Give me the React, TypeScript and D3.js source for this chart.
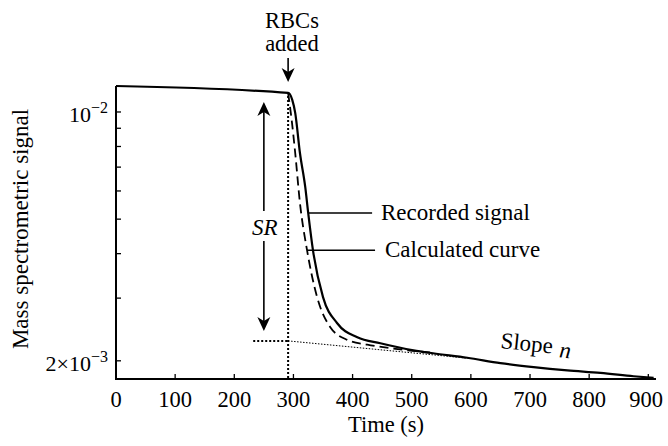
import React from 'react';
import * as d3 from 'd3';

// recorded mass spec signal (solid line)
const recordedT = [0, 291, 298, 303, 311, 320, 325, 333, 350, 374, 408, 447, 503, 536, 594, 650, 706, 763, 819, 875, 909];
const recordedV = [0.01183, 0.01131, 0.01081, 0.00994, 0.00767, 0.00615, 0.0052, 0.00409, 0.00302, 0.00255, 0.00233, 0.00224, 0.00214, 0.0021, 0.00204, 0.00197, 0.00192, 0.00188, 0.00185, 0.00181, 0.00179];

// calculated curve (dashed)
const calcT = [291, 297, 303, 311, 323, 340, 362, 391, 425, 464, 531];
const calcV = [0.01131, 0.0095, 0.00767, 0.00555, 0.00409, 0.00302, 0.00249, 0.00229, 0.00222, 0.00217, 0.00211];

// extrapolated slope line
const slopeT = [291, 600];
const slopeV = [0.002275, 0.00203];

const addTime = 291;
const baseStartT = 232;
const srT = 250;
const srTop = 0.01067;
const srBottom = 0.002426;

const xTicks = [0, 100, 200, 300, 400, 500, 600, 700, 800, 900];
const yTicks = [0.002, 0.003, 0.004, 0.005, 0.006, 0.007, 0.008, 0.009, 0.01];

const W = 668;
const H = 446;
const FONT = 'Liberation Serif';

const x = d3.scaleLinear().domain([0, 913]).range([116, 656]);
const y = d3.scaleLog().domain([0.001778, 0.01183]).range([379, 86]);

const line = d3.line<[number, number]>()
  .x(d => x(d[0]))
  .y(d => y(d[1]))
  .curve(d3.curveMonotoneX);

const zip = (a: number[], b: number[]) => a.map((t, i) => [t, b[i]] as [number, number]);

// small arrow head, tip at (tx, ty), pointing up (dir=-1) or down (dir=1)
const head = (tx: number, ty: number, dir: number) => {
  const h = 14, w = 6.5, notch = 4;
  return `M${tx},${ty} L${tx - w},${ty - dir * h} L${tx},${ty - dir * (h - notch)} L${tx + w},${ty - dir * h} Z`;
};

export default function App() {
  const x0 = x(0), y0 = y.range()[0];
  const xEnd = x.range()[1];
  const yTop = y.range()[1];
  const xa = x(addTime);
  const xs = x(srT);

  return (
    <svg width={W} height={H} style={{ position: 'absolute', left: 0, top: 0, background: '#fff' }}>
      <g fontFamily={FONT}>
        {/* axes */}
        <line x1={x0} y1={yTop} x2={x0} y2={y0 + 1} stroke="#000" strokeWidth={2} />
        <line x1={x0 - 1} y1={y0} x2={xEnd} y2={y0} stroke="#000" strokeWidth={2} />
        {xTicks.map(t => (
          <g key={'xt' + t}>
            {t > 0 && <line x1={x(t)} x2={x(t)} y1={y0} y2={y0 - 5} stroke="#000" strokeWidth={1.3} />}
            <text x={Math.min(x(t), 646)} y={y0 + 28} fontSize={22.5} textAnchor="middle">{t}</text>
          </g>
        ))}
        {yTicks.map(v => (
          <line key={'yt' + v} x1={x0} x2={x0 + 5} y1={y(v)} y2={y(v)} stroke="#000" strokeWidth={1.3} />
        ))}
        <text x={108} y={y(0.01) + 10} fontSize={22} textAnchor="end">
          10<tspan fontSize={16} dy={-9}>−2</tspan>
        </text>
        <text x={108} y={y(0.002) + 10} fontSize={22} textAnchor="end">
          2×10<tspan fontSize={16} dy={-9}>−3</tspan>
        </text>
        <text x={386} y={432} fontSize={22.5} textAnchor="middle">Time (s)</text>
        <text transform={`translate(28,229) rotate(-90)`} fontSize={23} textAnchor="middle">Mass spectrometric signal</text>

        {/* dotted guides */}
        <line x1={xa} x2={xa} y1={y(recordedV[1]) + 3} y2={y0} stroke="#000" strokeWidth={2} strokeDasharray="2,2" />
        <line x1={x(baseStartT)} x2={xa} y1={y(slopeV[0])} y2={y(slopeV[0])} stroke="#000" strokeWidth={2} strokeDasharray="2,2" />
        <path d={line(zip(slopeT, slopeV)) || ''} fill="none" stroke="#000" strokeWidth={1} strokeDasharray="1.5,1.5" />

        {/* curves */}
        <path d={line(zip(calcT, calcV)) || ''} fill="none" stroke="#000" strokeWidth={1.8} strokeDasharray="9,5" />
        <path d={line(zip(recordedT, recordedV)) || ''} fill="none" stroke="#000" strokeWidth={2.2} strokeLinejoin="round" />

        {/* RBCs added */}
        <text x={292} y={28} fontSize={22.5} textAnchor="middle">RBCs</text>
        <text x={292} y={51} fontSize={22.5} textAnchor="middle">added</text>
        <line x1={xa} x2={xa} y1={58} y2={72} stroke="#000" strokeWidth={1.6} />
        <path d={head(xa, y(recordedV[1]) - 11, 1)} fill="#000" />

        {/* SR arrow */}
        <line x1={xs} x2={xs} y1={y(srTop) + 4} y2={y(srBottom) - 4} stroke="#000" strokeWidth={1.6} />
        <path d={head(xs, y(srTop), -1)} fill="#000" />
        <path d={head(xs, y(srBottom), 1)} fill="#000" />
        <rect x={xs - 15} y={211} width={30} height={30} fill="#fff" />
        <text x={xs + 1} y={235} fontSize={23} fontStyle="italic" textAnchor="middle">SR</text>

        {/* labels */}
        <line x1={x(325)} x2={x(433)} y1={y(0.0052)} y2={y(0.0052)} stroke="#000" strokeWidth={1.5} />
        <text x={381} y={y(0.0052) + 7} fontSize={23}>Recorded signal</text>
        <line x1={x(323)} x2={x(438)} y1={y(0.00409)} y2={y(0.00409)} stroke="#000" strokeWidth={1.5} />
        <text x={385} y={y(0.00409) + 7} fontSize={23}>Calculated curve</text>

        <text transform="translate(500,348) rotate(6)" fontSize={23}>
          Slope<tspan dx={7} dy={3} fontStyle="italic">n</tspan>
        </text>
      </g>
    </svg>
  );
}
